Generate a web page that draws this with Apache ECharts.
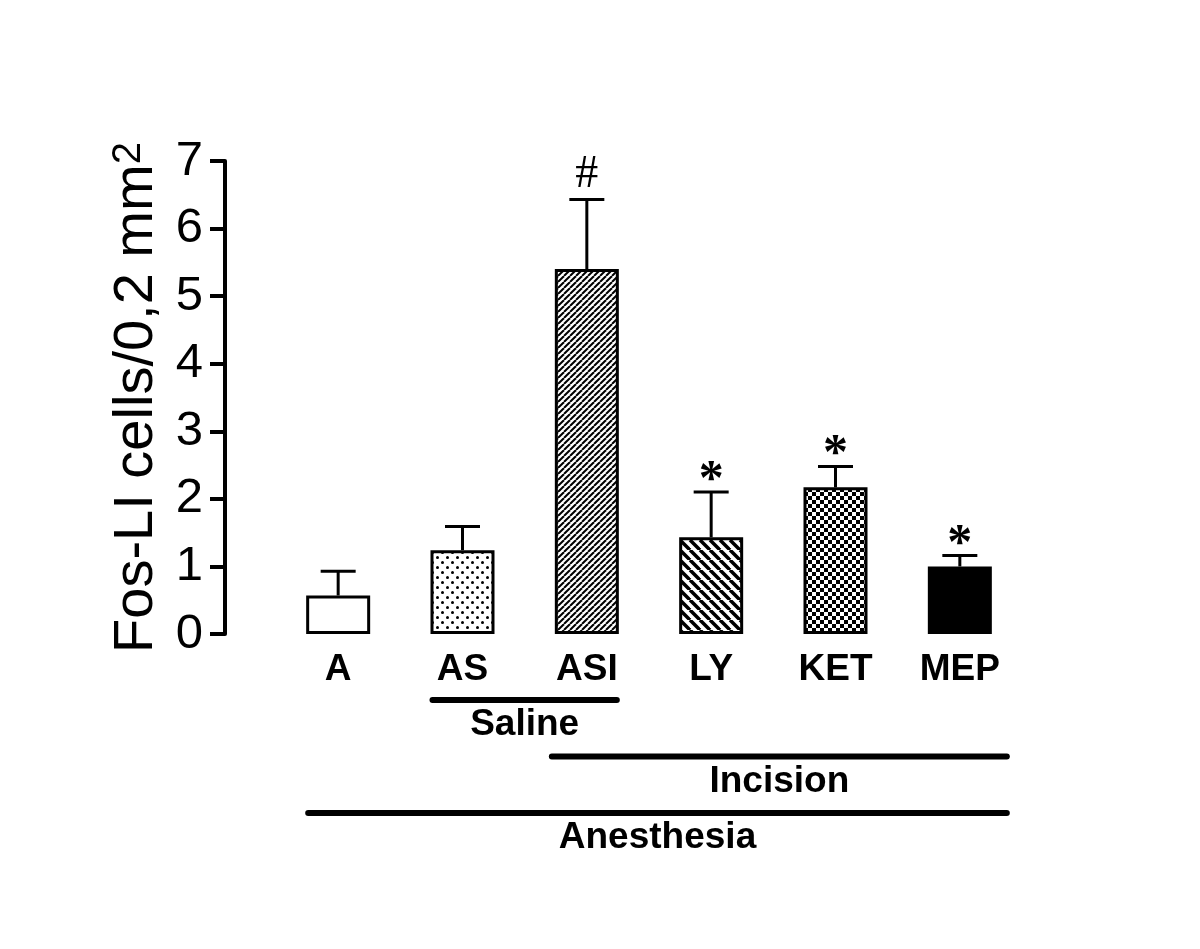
<!DOCTYPE html>
<html>
<head>
<meta charset="utf-8">
<script src="https://cdn.jsdelivr.net/npm/echarts@6/dist/echarts.min.js"></script>
<style>
  html, body { margin: 0; padding: 0; background: #fff; }
  #chart { width: 1200px; height: 949px; }
</style>
</head>
<body>
<div id="chart"></div>
<script>
// values
const categories = ['A', 'AS', 'ASI', 'LY', 'KET', 'MEP'];
const means = [0.57, 1.24, 5.40, 1.43, 2.17, 1.00];
const errUpper = [0.93, 1.59, 6.43, 2.10, 2.48, 1.16];
const markers = ['', '', '#', '*', '*', '*'];
const fills = ['none', 'dots', 'fineHatch', 'wideHatch', 'checker', 'solid'];
const yMin = 0, yMax = 7, yStep = 1;

// treatment brackets under the axis
const groupNames = ['Saline', 'Incision', 'Anesthesia'];
const groupFrom = ['AS', 'ASI', 'A'];
const groupTo = ['ASI', 'MEP', 'MEP'];

// layout bits (pixels)
const bracketPad = [[2, -2], [-3, 15], [2, 15]];

function tile(kind) {
  if (kind === 'none') return '#fff';
  if (kind === 'solid') return '#000';
  const c = document.createElement('canvas');
  const g = c.getContext('2d');
  let s = 8;
  if (kind === 'dots') s = 10;
  if (kind === 'fineHatch') s = 6;
  if (kind === 'wideHatch') s = 10;
  c.width = c.height = s;
  g.fillStyle = '#fff';
  g.fillRect(0, 0, s, s);
  g.fillStyle = '#000';
  g.strokeStyle = '#000';
  if (kind === 'dots') {
    [[2.5, 2.5], [7.5, 7.5]].forEach(([x, y]) => {
      g.beginPath();
      g.arc(x, y, 1.5, 0, Math.PI * 2);
      g.fill();
    });
  } else if (kind === 'fineHatch' || kind === 'wideHatch') {
    g.lineWidth = kind === 'fineHatch' ? 2 : 3.5;
    for (let k = -1; k <= 1; k++) {
      g.beginPath();
      if (kind === 'fineHatch') {
        g.moveTo(k * s, s); g.lineTo(k * s + s, 0);
      } else {
        g.moveTo(k * s, 0); g.lineTo(k * s + s, s);
      }
      g.stroke();
    }
  } else if (kind === 'checker') {
    g.fillRect(0, 0, s / 2, s / 2);
    g.fillRect(s / 2, s / 2, s / 2, s / 2);
  }
  return { image: c, repeat: 'repeat' };
}

const chart = echarts.init(document.getElementById('chart'), null, { renderer: 'canvas' });

const option = {
  backgroundColor: '#fff',
  animation: false,
  grid: { left: 276, right: 178, top: 161, bottom: 315, containLabel: false },
  xAxis: {
    type: 'category',
    data: categories,
    axisLine: { show: false },
    axisTick: { show: false },
    axisLabel: {
      interval: 0,
      color: '#000',
      fontSize: 37,
      fontWeight: 'bold',
      fontFamily: 'Liberation Sans',
      margin: 17
    }
  },
  yAxis: {
    type: 'value',
    min: yMin,
    max: yMax,
    interval: yStep,
    offset: 51,
    name: 'Fos-LI cells/0,2 mm{sup|2}',
    nameLocation: 'middle',
    nameRotate: 90,
    nameGap: 52,
    nameTextStyle: {
      color: '#000',
      fontSize: 56,
      fontFamily: 'Liberation Sans',
      rich: {
        sup: { fontSize: 40, fontFamily: 'Liberation Sans', color: '#000', verticalAlign: 'top' }
      }
    },
    axisLine: { show: true, lineStyle: { color: '#000', width: 4 } },
    axisTick: { show: true, length: 15, lineStyle: { color: '#000', width: 4 } },
    axisLabel: { color: '#000', fontSize: 49, fontFamily: 'Liberation Sans', margin: 22 },
    splitLine: { show: false }
  },
  series: [
    {
      type: 'bar',
      silent: true,
      barWidth: 64,
      z: 3,
      itemStyle: { borderColor: '#000', borderWidth: 3 },
      data: means.map((v, i) => ({ value: v, itemStyle: { color: tile(fills[i]) } }))
    },
    {
      type: 'custom',
      silent: true,
      clip: false,
      z: 2,
      data: errUpper.map((u, i) => [i, means[i], u]),
      renderItem: (params, api) => {
        const base = api.coord([api.value(0), api.value(1)]);
        const top = api.coord([api.value(0), api.value(2)]);
        const m = markers[params.dataIndex];
        const children = [
          { type: 'line', shape: { x1: base[0], y1: base[1], x2: base[0], y2: top[1] },
            style: { stroke: '#000', lineWidth: 3 } },
          { type: 'line', shape: { x1: base[0] - 17.5, y1: top[1], x2: base[0] + 17.5, y2: top[1] },
            style: { stroke: '#000', lineWidth: 3 } }
        ];
        if (m) {
          children.push({
            type: 'text',
            x: base[0],
            y: top[1] - (m === '#' ? 25 : 11),
            style: {
              text: m,
              fill: '#000',
              fontFamily: 'Liberation Serif',
              fontWeight: m === '#' ? 'normal' : 'bold',
              fontSize: m === '#' ? 46 : 50,
              align: 'center',
              verticalAlign: 'middle'
            }
          });
        }
        return { type: 'group', children };
      }
    },
    {
      type: 'custom',
      silent: true,
      clip: false,
      data: groupNames.map((n, k) => [categories.indexOf(groupFrom[k]), categories.indexOf(groupTo[k])]),
      renderItem: (params, api) => {
        const k = params.dataIndex;
        const a = api.coord([api.value(0), 0]);
        const b = api.coord([api.value(1), 0]);
        const lineY = a[1] + 66 + k * 56.5;
        const x1 = a[0] - 32 + bracketPad[k][0];
        const x2 = b[0] + 32 + bracketPad[k][1];
        return {
          type: 'group',
          children: [
            { type: 'line', shape: { x1, y1: lineY, x2, y2: lineY },
              style: { stroke: '#000', lineWidth: 6, lineCap: 'round' } },
            { type: 'text', x: (x1 + x2) / 2, y: lineY + 25,
              style: { text: groupNames[k], fill: '#000', fontSize: 37, fontWeight: 'bold',
                       fontFamily: 'Liberation Sans', align: 'center', verticalAlign: 'middle' } }
          ]
        };
      }
    }
  ]
};

chart.setOption(option);
</script>
</body>
</html>
